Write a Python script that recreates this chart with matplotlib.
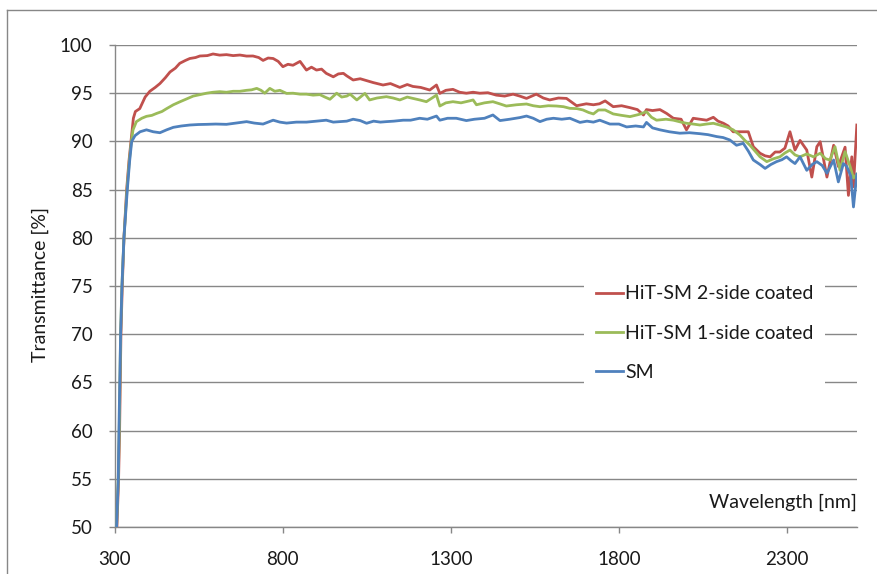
import matplotlib
matplotlib.use("Agg")
import matplotlib.pyplot as plt
from matplotlib.lines import Line2D

# ---------------- data ----------------
red_wl = [306,311,314,318,322,327,335,342,348,355,361,374,390,404,420,434,450,464,480,493,510,523,540,553,575,592,612,632,652,672,692,711,728,741,756,771,786,800,815,830,851,870,885,900,915,929,950,965,980,990,1009,1030,1050,1069,1098,1120,1148,1170,1187,1210,1237,1257,1267,1285,1306,1326,1346,1366,1386,1410,1435,1460,1485,1505,1525,1554,1575,1594,1620,1644,1674,1703,1724,1742,1759,1783,1808,1833,1855,1873,1882,1900,1922,1942,1962,1985,2001,2021,2041,2061,2081,2095,2111,2125,2140,2160,2185,2200,2220,2235,2250,2265,2279,2294,2309,2324,2339,2359,2374,2389,2399,2419,2439,2453,2473,2483,2493,2498,2508]
red_t = [50,55,60,70,75,80,85,88,90,92.4,93.1,93.4,94.6,95.2,95.6,96.0,96.6,97.2,97.6,98.1,98.4,98.6,98.7,98.86,98.9,99.07,98.95,99.0,98.9,98.96,98.85,98.86,98.7,98.4,98.65,98.6,98.3,97.75,98.0,97.9,98.3,97.4,97.7,97.4,97.5,97.06,96.7,97.0,97.06,96.8,96.37,96.5,96.3,96.1,95.85,96.0,95.6,95.9,95.7,95.6,95.33,95.85,94.98,95.3,95.4,95.1,95.0,95.1,95.0,95.05,94.8,94.7,94.9,94.7,94.46,94.9,94.5,94.3,94.5,94.46,93.7,93.9,93.8,93.9,94.2,93.6,93.7,93.5,93.3,92.74,93.3,93.2,93.3,92.9,92.4,92.3,91.2,92.4,92.3,92.2,92.5,92.1,91.88,91.6,91.0,91.0,91.0,89.45,88.77,88.5,88.4,88.9,88.9,89.3,91.0,89.1,90.1,89.1,86.3,89.45,89.97,86.3,89.6,87.4,89.4,84.4,88.4,85.3,91.7]

green_wl = [305,310,313,317,321,327,336,343,349,354,364,380,394,410,424,440,454,474,493,513,533,553,573,592,612,632,652,672,692,707,722,735,746,761,776,791,811,830,851,870,890,910,925,940,960,975,990,1000,1020,1044,1058,1080,1108,1128,1148,1170,1187,1207,1227,1257,1267,1285,1306,1330,1355,1366,1376,1400,1425,1445,1465,1495,1525,1545,1565,1590,1614,1635,1654,1675,1693,1710,1724,1739,1759,1783,1808,1833,1860,1882,1897,1912,1940,1962,1985,2001,2021,2041,2061,2081,2100,2120,2140,2160,2175,2190,2205,2220,2240,2260,2279,2294,2309,2324,2339,2359,2379,2399,2415,2428,2443,2458,2473,2488,2498,2508]
green_t = [50,55,60,70,75,80,85,88,90,91.2,92.05,92.4,92.6,92.7,92.9,93.1,93.4,93.8,94.1,94.4,94.7,94.85,95.0,95.1,95.16,95.1,95.2,95.2,95.3,95.35,95.5,95.3,95.0,95.5,95.2,95.3,94.98,95.0,94.9,94.9,94.8,94.85,94.6,94.37,95.0,94.6,94.7,94.9,94.3,94.98,94.3,94.5,94.64,94.5,94.3,94.6,94.46,94.3,94.12,94.8,93.67,94.0,94.12,94.0,94.2,94.3,93.8,94.0,94.12,93.9,93.67,93.8,93.88,93.7,93.6,93.7,93.67,93.6,93.43,93.4,93.26,93.0,92.85,93.26,93.26,92.85,92.7,92.57,92.8,93.08,92.5,92.2,92.3,92.2,92.0,91.88,91.8,91.7,91.8,91.88,91.7,91.5,91.2,90.66,90.1,89.6,89.0,88.4,87.9,88.2,88.4,88.8,89.1,88.6,88.4,88.7,88.4,88.77,88.2,88.07,89.45,87.0,88.94,87.4,86.2,86.6]

blue_wl = [305,310,312,317,321,327,337,344,350,360,375,394,414,434,454,474,498,523,548,573,600,632,660,692,715,741,756,771,791,811,840,870,900,929,950,969,990,1009,1030,1049,1070,1090,1108,1130,1158,1180,1207,1230,1257,1267,1290,1316,1346,1370,1400,1425,1446,1475,1505,1525,1545,1565,1585,1605,1630,1654,1684,1705,1724,1743,1773,1800,1823,1850,1873,1882,1900,1922,1950,1981,2010,2041,2065,2091,2110,2130,2150,2170,2185,2200,2220,2235,2252,2269,2285,2299,2312,2324,2339,2359,2375,2389,2405,2419,2439,2453,2468,2478,2490,2498,2508]
blue_t = [50,55,60,70,75,80,85,88,90,90.6,91.0,91.2,91.0,90.9,91.2,91.46,91.6,91.7,91.75,91.77,91.8,91.77,91.9,92.05,91.9,91.8,92.0,92.2,92.0,91.9,92.0,92.0,92.1,92.2,92.0,92.05,92.1,92.3,92.16,91.88,92.1,92.0,92.05,92.1,92.2,92.2,92.4,92.3,92.63,92.2,92.4,92.4,92.16,92.3,92.4,92.74,92.16,92.3,92.47,92.63,92.4,92.05,92.3,92.4,92.3,92.4,91.97,92.1,92.0,92.2,91.8,91.8,91.5,91.6,91.5,91.97,91.4,91.2,91.0,90.85,90.9,90.8,90.7,90.5,90.4,90.15,89.6,89.8,89.0,88.07,87.6,87.2,87.6,87.9,88.1,88.4,88.0,87.7,88.4,87.0,87.6,87.9,87.5,86.7,88.07,85.8,87.7,87.4,86.4,83.2,86.6]

series_labels = ["HiT-SM 2-side coated", "HiT-SM 1-side coated", "SM"]
x_ticks = [300, 800, 1300, 1800, 2300]
y_ticks = [50, 55, 60, 65, 70, 75, 80, 85, 90, 95, 100]

# ---------------- style ----------------
plt.rcParams['font.family'] = ['Lato', 'DejaVu Sans']
RED, GREEN, BLUE = "#C0504D", "#9BBB59", "#4F81BD"
GRID = "#878787"
TXT = "#1a1a1a"
FS_TICK = 13.5
FS = 14

fig = plt.figure(figsize=(8.77, 5.74), dpi=100)
ax = fig.add_axes([0.131, 0.0819, 0.846, 0.8397])

ax.plot(red_wl, red_t, color=RED, lw=2.0, label=series_labels[0], zorder=3)
ax.plot(green_wl, green_t, color=GREEN, lw=2.0, label=series_labels[1], zorder=3)
ax.plot(blue_wl, blue_t, color=BLUE, lw=2.0, label=series_labels[2], zorder=3)

ax.set_xlim(300, 2508)
ax.set_ylim(50, 100)
ax.set_xticks(x_ticks)
ax.set_yticks(y_ticks)
ax.set_xticklabels([str(v) for v in x_ticks])
ax.set_yticklabels([str(v) for v in y_ticks])

ax.yaxis.grid(True, color=GRID, lw=1.0)
ax.set_axisbelow(True)
for s in ["top", "right"]:
    ax.spines[s].set_visible(False)
for s in ["left", "bottom"]:
    ax.spines[s].set_color(GRID)
    ax.spines[s].set_linewidth(1.0)

ax.tick_params(axis='y', direction='out', length=4, width=1, color=GRID,
               pad=12, labelsize=FS_TICK, labelcolor=TXT)
ax.tick_params(axis='x', direction='out', length=4, width=1, color=GRID,
               pad=13, labelsize=FS_TICK, labelcolor=TXT)

ax.text(1.0, 0.052, "Wavelength [nm]", transform=ax.transAxes, ha='right',
        va='center', fontsize=FS, color=TXT)
fig.text(40/877, 1 - 285/574, "Transmittance [%]", rotation=90, ha='center',
         va='center', fontsize=FS, color=TXT)

leg = ax.legend(loc='center', bbox_to_anchor=(0.795, 0.402), frameon=True,
                fontsize=FS, handlelength=1.4, handletextpad=0.12,
                labelspacing=1.15, borderpad=0.6)
leg.get_frame().set_facecolor('white')
leg.get_frame().set_edgecolor('none')
leg.get_frame().set_alpha(1.0)
for t in leg.get_texts():
    t.set_color(TXT)

# outer chart border (top and left visible)
fig.add_artist(Line2D([7/877, 1.0], [1 - 10/574, 1 - 10/574], color=GRID, lw=1.0,
                      transform=fig.transFigure))
fig.add_artist(Line2D([7/877, 7/877], [0.0, 1 - 10/574], color=GRID, lw=1.0,
                      transform=fig.transFigure))

fig.savefig("out.png", dpi=100)
